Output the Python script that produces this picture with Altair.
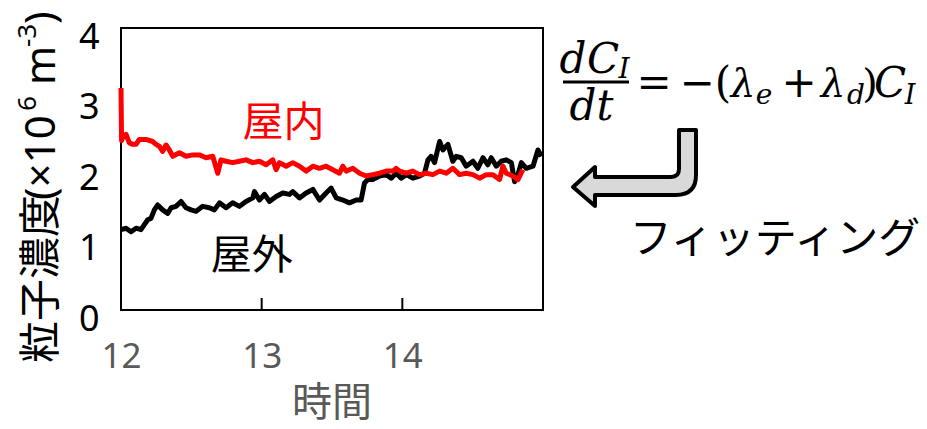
import altair as alt
import pandas as pd

# ---------------- data ----------------
# 屋内 (indoor) particle concentration, ×10^6 m^-3, vs time (h)
indoor_t = [12.000, 12.004, 12.012, 12.036, 12.059, 12.083, 12.107, 12.130, 12.178, 12.225,
            12.249, 12.273, 12.296, 12.320, 12.344, 12.368, 12.415, 12.462, 12.510, 12.557,
            12.605, 12.652, 12.688, 12.711, 12.747, 12.794, 12.842, 12.889, 12.937, 12.984,
            13.032, 13.079, 13.103, 13.126, 13.174, 13.221, 13.269, 13.316, 13.364, 13.411,
            13.458, 13.506, 13.553, 13.577, 13.601, 13.648, 13.696, 13.743, 13.790, 13.838,
            13.885, 13.933, 13.956, 13.980, 14.028, 14.075, 14.122, 14.170, 14.217, 14.265,
            14.312, 14.359, 14.407, 14.454, 14.502, 14.549, 14.597, 14.644, 14.691, 14.715,
            14.739, 14.786, 14.822, 14.857]
indoor_v = [3.15, 2.40, 2.45, 2.49, 2.37, 2.35, 2.35, 2.42, 2.42, 2.39,
            2.35, 2.32, 2.25, 2.34, 2.27, 2.18, 2.23, 2.18, 2.20, 2.20,
            2.16, 2.18, 1.94, 2.13, 2.11, 2.09, 2.11, 2.13, 2.09, 2.11,
            2.06, 2.13, 1.99, 2.09, 2.04, 2.09, 2.04, 1.97, 2.04, 2.01,
            2.04, 1.99, 1.94, 2.04, 1.97, 2.01, 1.94, 1.90, 1.92, 1.94,
            1.97, 1.97, 2.01, 1.97, 1.94, 1.97, 1.92, 1.94, 1.92, 1.97,
            1.94, 2.01, 1.92, 1.94, 1.92, 1.87, 1.92, 1.92, 1.85, 2.04,
            1.94, 1.90, 1.85, 1.99]

# 屋外 (outdoor)
outdoor_t = [12.000, 12.036, 12.071, 12.107, 12.142, 12.166, 12.190, 12.213, 12.237, 12.261,
             12.296, 12.332, 12.356, 12.391, 12.427, 12.462, 12.498, 12.534, 12.581, 12.628,
             12.664, 12.700, 12.747, 12.794, 12.842, 12.889, 12.937, 12.949, 12.984, 13.020,
             13.055, 13.103, 13.150, 13.198, 13.221, 13.269, 13.316, 13.364, 13.411, 13.458,
             13.494, 13.530, 13.577, 13.624, 13.672, 13.707, 13.731, 13.755, 13.790, 13.838,
             13.885, 13.921, 13.956, 13.992, 14.028, 14.075, 14.122, 14.158, 14.182, 14.205,
             14.229, 14.265, 14.288, 14.324, 14.359, 14.383, 14.419, 14.454, 14.502, 14.537,
             14.573, 14.608, 14.632, 14.668, 14.703, 14.739, 14.775, 14.798, 14.822, 14.846,
             14.881, 14.929, 14.964, 14.988]
outdoor_v = [1.14, 1.16, 1.11, 1.16, 1.14, 1.21, 1.28, 1.30, 1.42, 1.49,
             1.42, 1.37, 1.45, 1.47, 1.54, 1.45, 1.42, 1.40, 1.47, 1.45,
             1.42, 1.52, 1.45, 1.52, 1.47, 1.54, 1.59, 1.68, 1.56, 1.64,
             1.54, 1.61, 1.66, 1.64, 1.68, 1.59, 1.66, 1.71, 1.56, 1.66,
             1.73, 1.59, 1.56, 1.52, 1.56, 1.56, 1.80, 1.85, 1.85, 1.90,
             1.92, 1.87, 1.94, 1.87, 1.92, 1.87, 1.90, 1.94, 2.13, 2.18,
             2.09, 2.39, 2.27, 2.35, 2.11, 2.18, 2.16, 2.04, 2.11, 2.01,
             2.16, 2.06, 2.16, 2.04, 2.11, 2.13, 2.09, 1.82, 1.92, 2.09,
             2.01, 2.04, 2.27, 2.18]

x_ticks = [12, 13, 14]
y_ticks = [0, 1, 2, 3, 4]
inner_ticks = [13, 14]
x_domain = [12, 15]
y_domain = [0, 4]

series_labels = ["屋内", "屋外"]
label_t = [13.156, 12.929]
label_v = [2.634, 0.755]

# ---------------- layout ----------------
W, H = 422, 282
OX, OY = 121, 28          # page position of the plot origin
PAD = {"left": OX - 8, "top": OY - 8, "right": 927 - 16 - (OX - 8) - W,
       "bottom": 429 - 16 - (OY - 8) - H}

CJK = "Noto Sans CJK JP"
SANS = "Noto Sans"
SERIF = "DejaVu Serif"

xs = alt.Scale(domain=x_domain, nice=False, zero=False)
ys = alt.Scale(domain=y_domain, nice=False)

xaxis = alt.Axis(values=x_ticks, title=None, ticks=False, domain=False, grid=False,
                 labelFont=SANS, labelFontSize=35, labelColor="#595959",
                 labelPadding=29, labelFlush=False, labelOverlap=False, format="d")
yaxis = alt.Axis(values=y_ticks, title=None, ticks=False, domain=False, grid=False,
                 labelFont=SANS, labelFontSize=36, labelColor="black",
                 labelPadding=22, labelOffset=9, format="d")

X = alt.X("t:Q", scale=xs, axis=xaxis)
Y = alt.Y("v:Q", scale=ys, axis=yaxis)

outdoor = alt.Chart(pd.DataFrame({"t": outdoor_t, "v": outdoor_v})).mark_line(
    color="black", strokeWidth=5, strokeJoin="round"
).encode(x=X, y=Y)

indoor = alt.Chart(pd.DataFrame({"t": indoor_t, "v": indoor_v})).mark_line(
    color="#ff0000", strokeWidth=5, strokeJoin="round"
).encode(x=X, y=Y)

ticks = alt.Chart(pd.DataFrame({"t": inner_ticks})).mark_rule(color="black", strokeWidth=2).encode(
    x=X, y=alt.value(H), y2=alt.value(H - 12))

labels = alt.Chart(pd.DataFrame({"t": label_t, "v": label_v, "s": series_labels})).mark_text(
    font=CJK, fontSize=41, align="center", baseline="middle"
).encode(
    x=X, y=Y, text="s:N",
    color=alt.Color("s:N", scale=alt.Scale(domain=series_labels, range=["#ff0000", "black"]), legend=None))

one = pd.DataFrame({"d": [0]})


def txt(text, px, py, size, font=CJK, color="black", align="center", baseline="middle",
        style="normal", angle=0):
    return alt.Chart(one).mark_text(
        text=text, font=font, fontSize=size, color=color, align=align, baseline=baseline,
        fontStyle=style, angle=angle
    ).encode(x=alt.value(px - OX), y=alt.value(py - OY))


layers = [outdoor, indoor, ticks, labels]

# y-axis title, built from pieces (rotated, reading upward)
ytitle = [("粒子濃度", 55, 363, 42, CJK), ("(×10", 55, 200, 42, SANS), ("6", 36, 111, 26, SANS),
          ("m", 55, 85, 42, SANS), ("-3", 36, 47, 26, SANS), (")", 55, 24, 42, SANS)]
for s, px, py, sz, f in ytitle:
    layers.append(txt(s, px, py, sz, font=f, align="left", baseline="alphabetic", angle=270))

layers.append(txt("時間", 332, 416, 40, color="#595959", baseline="alphabetic"))

# equation dC_I/dt = -(λe + λd) C_I
glyphs = [
    ("d", 573, 73, 42, "italic"), ("C", 603, 73, 42, "italic"), ("I", 624, 78, 28, "italic"),
    ("d", 583, 120, 42, "italic"), ("t", 605, 120, 42, "italic"),
    ("=", 654, 97, 42, "normal"), ("−", 697, 97, 42, "normal"), ("(", 723, 97, 42, "normal"),
    ("λ", 743, 97, 39, "italic"), ("e", 764, 104, 28, "italic"), ("+", 799, 97, 42, "normal"),
    ("λ", 833, 97, 39, "italic"), ("d", 856, 104, 28, "italic"), (")", 870, 97, 40, "normal"),
    ("C", 890, 97, 42, "italic"), ("I", 910, 104, 27, "italic"),
]
for g, px, py, sz, st in glyphs:
    layers.append(txt(g, px, py, sz, font=SERIF, baseline="alphabetic", style=st))

layers.append(alt.Chart(one).mark_rule(color="black", strokeWidth=3).encode(
    x=alt.value(563 - OX), x2=alt.value(629 - OX), y=alt.value(82 - OY)))

# bent arrow
arrow_path = ("M 0.692 -0.585 L 0.954 -0.585 L 0.954 0.108 Q 0.954 0.415 0.646 0.415 "
              "L -0.600 0.415 L -0.600 0.585 L -0.938 0.292 L -0.600 -0.015 L -0.600 0.138 "
              "L 0.569 0.138 Q 0.692 0.138 0.692 0.015 Z")
layers.append(alt.Chart(one).mark_point(
    shape=arrow_path, size=16900, filled=True, fill="#d9d9d9", stroke="black",
    strokeWidth=4, opacity=1, strokeJoin="round"
).encode(x=alt.value(634 - OX), y=alt.value(168 - OY)))

layers.append(txt("フィッティング", 775, 240, 42))

chart = alt.layer(*layers).properties(
    width=W, height=H, autosize="none", padding=PAD, background="white"
).configure_view(stroke="black", strokeWidth=2)

chart.save("out.html", embed_options={"renderer": "svg", "actions": False})
